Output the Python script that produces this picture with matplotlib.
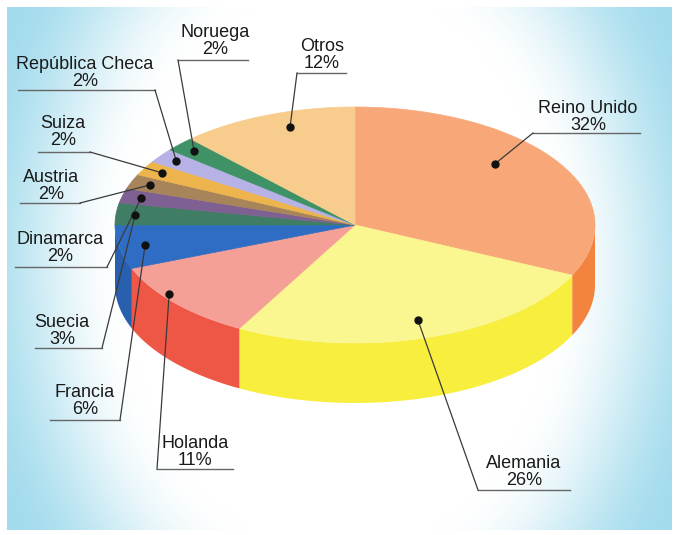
import numpy as np
import matplotlib
matplotlib.use("Agg")
import matplotlib.pyplot as plt
from matplotlib.patches import Polygon

# datos
paises = ['Reino Unido', 'Alemania', 'Holanda', 'Francia', 'Suecia', 'Dinamarca',
          'Austria', 'Suiza', 'República Checa', 'Noruega', 'Otros']
porcentajes = [32, 26, 11, 6, 3, 2, 2, 2, 2, 2, 12]

col_top = ['#F8A878', '#FAF690', '#F5A096', '#2F6DC4', '#3F7D64', '#7E6092',
           '#A8845A', '#EDB44E', '#B6B2E6', '#3E9266', '#F8CC8C']
col_side = ['#F2843F', '#F8EE3E', '#EE5746', '#285FAE', '#346A54', '#6A4E7E',
            '#8E6E48', '#D89A38', '#9C98CC', '#337C56', '#E8B670']

# posicion de los rotulos: centro del texto, linea inferior (x0, x1, y), lado del conector
rot_xy = [(588, 117), (524, 472), (195, 452), (85, 401), (62, 331), (60, 248),
          (51, 186), (63, 132), (85, 73), (215, 41), (322, 55)]
subr = [(533, 640, 133), (478, 570, 490), (157, 233, 469), (50, 120, 420),
        (35, 102, 348), (15, 107, 267), (20, 80, 203), (38, 90, 152),
        (18, 155, 90), (178, 248, 60), (297, 346, 73)]
lado = ['l', 'l', 'l', 'r', 'r', 'r', 'r', 'r', 'r', 'l', 'l']
# punto dentro de la porcion: fraccion de angulo y de radio
punto = [(0.42, 0.78), (0.5, 0.85), (0.61, 0.97), (0.5, 0.89), (0.5, 0.92),
         (0.5, 0.92), (0.5, 0.92), (0.5, 0.92), (0.5, 0.92), (0.5, 0.92),
         (0.58, 0.87)]

cx, cy, a, b, depth = 355, 225, 240, 118, 60

fig = plt.figure(figsize=(6.82, 5.35), dpi=100)
ax = fig.add_axes([0, 0, 1, 1])
ax.set_xlim(0, 682)
ax.set_ylim(535, 0)
ax.axis('off')

# fondo degradado
W, H = 682, 535
xx, yy = np.meshgrid(np.arange(W), np.arange(H))
u = (xx - 340) / 335.0
v = (yy - 268) / 262.0
t = np.sqrt(u ** 2 + 0.35 * v ** 2)
s = np.clip((t - 0.64) / 0.5, 0, 1)
s = s * s * (3 - 2 * s)
azul = np.array([0.64, 0.86, 0.93])
img = (1 - s[..., None]) + s[..., None] * azul
marco = (xx < 7) | (xx > 671) | (yy < 7) | (yy > 529)
img[marco] = 1.0
ax.imshow(img, extent=[0, W, H, 0], zorder=0, aspect='auto')


def elipse(ang, dy=0.0):
    r = np.radians(ang)
    return cx + a * np.cos(r), cy - b * np.sin(r) + dy


# angulos de cada porcion (sentido horario desde arriba)
ini = []
fin = []
ang = 90.0
for p in porcentajes:
    ini.append(ang)
    ang -= p * 3.6
    fin.append(ang)

# caras laterales (solo la parte delantera, entre -180 y 0 grados)
for i in range(len(paises)):
    t0, t1 = ini[i], fin[i]
    lo, hi = max(t1, -180), min(t0, 0)
    if lo >= hi:
        continue
    ts = np.linspace(hi, lo, 60)
    x1, y1 = elipse(ts)
    x2, y2 = elipse(ts[::-1], depth)
    pts = np.column_stack([np.r_[x1, x2], np.r_[y1, y2]])
    ax.add_patch(Polygon(pts, closed=True, fc=col_side[i], ec='none', zorder=2))

# caras superiores
for i in range(len(paises)):
    ts = np.linspace(ini[i], fin[i], 80)
    x1, y1 = elipse(ts)
    pts = np.column_stack([np.r_[cx, x1], np.r_[cy, y1]])
    ax.add_patch(Polygon(pts, closed=True, fc=col_top[i], ec=col_top[i], lw=0.5, zorder=3))

# rotulos, lineas y puntos
for i in range(len(paises)):
    fa, fr = punto[i]
    am = np.radians(ini[i] + (fin[i] - ini[i]) * fa)
    px = cx + fr * a * np.cos(am)
    py = cy - fr * b * np.sin(am)
    x0, x1, yl = subr[i]
    ex = x0 if lado[i] == 'l' else x1
    ax.plot([x0, x1], [yl, yl], color='#666666', lw=1.0, zorder=4)
    ax.plot([ex, px], [yl, py], color='#3a3a3a', lw=0.9, zorder=4)
    ax.plot(px, py, 'o', color='#111111', ms=5, zorder=5)
    tx, ty = rot_xy[i]
    ax.text(tx, ty, paises[i] + '\n' + str(porcentajes[i]) + '%', ha='center', va='center',
            fontsize=13, family='Liberation Sans', color='#1a1a1a', linespacing=1.0, zorder=6)

fig.savefig('out.png', dpi=100)
